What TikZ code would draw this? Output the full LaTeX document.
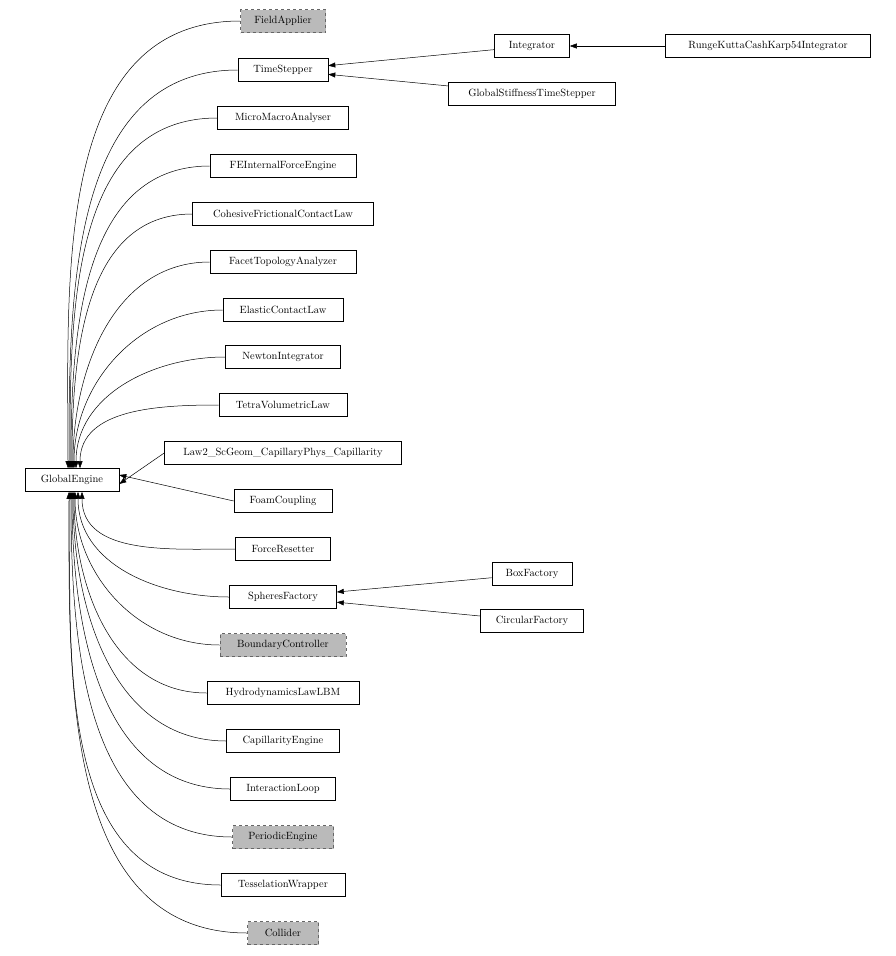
\documentclass[tikz,border=0pt]{standalone}
\usetikzlibrary{arrows.meta}
\begin{document}
\begin{tikzpicture}[x=1pt,y=-1pt,
  box/.style={draw, line width=0.6pt, minimum height=23pt, inner sep=0pt, font=\fontsize{10.5}{12}\selectfont, fill=white},
  gbox/.style={box, fill=black!27, dashed, draw=black!60},
  inh/.style={-{Triangle[width=5pt,length=7pt]}, line width=0.5pt}]
\useasboundingbox (0,0) rectangle (895,956);
\def\N#1#2#3#4#5#6{\node[#1, minimum width=#5pt] (#2) at (#3,#4) {#6};}
\N{box}{ge}{72}{480}{94}{GlobalEngine}
\N{gbox}{fa}{283}{21}{85}{FieldApplier}
\N{box}{ts}{283}{70}{90}{TimeStepper}
\N{box}{integ}{532}{46}{75}{Integrator}
\N{box}{rk}{768}{46}{205}{RungeKuttaCashKarp54Integrator}
\N{box}{gsts}{532}{94}{167}{GlobalStiffnessTimeStepper}
\N{box}{mma}{283}{118}{131}{MicroMacroAnalyser}
\N{box}{fei}{283}{166}{146}{FEInternalForceEngine}
\N{box}{cfc}{283}{214}{181}{CohesiveFrictionalContactLaw}
\N{box}{fta}{283}{262}{146}{FacetTopologyAnalyzer}
\N{box}{ecl}{283}{310}{120}{ElasticContactLaw}
\N{box}{ni}{283}{357}{115}{NewtonIntegrator}
\N{box}{tvl}{283}{405}{128}{TetraVolumetricLaw}
\N{box}{law}{283}{453}{237}{Law2\_ScGeom\_CapillaryPhys\_Capillarity}
\N{box}{fc}{283}{501}{98}{FoamCoupling}
\N{box}{fr}{283}{549}{95}{ForceResetter}
\N{box}{sf}{283}{597}{107}{SpheresFactory}
\N{box}{bf}{532}{574}{80}{BoxFactory}
\N{box}{cf}{532}{621}{103}{CircularFactory}
\N{gbox}{bc}{283}{645}{126}{BoundaryController}
\N{box}{hl}{283}{693}{152}{HydrodynamicsLawLBM}
\N{box}{ce}{283}{741}{113}{CapillarityEngine}
\N{box}{il}{283}{789}{105}{InteractionLoop}
\N{gbox}{pe}{283}{837}{101}{PeriodicEngine}
\N{box}{tw}{283}{885}{124}{TesselationWrapper}
\N{gbox}{col}{283}{933}{71}{Collider}
\draw[inh] (integ) -- (ts);
\draw[inh] (gsts) -- (ts);
\draw[inh] (rk) -- (integ);
\draw[inh] (bf) -- (sf);
\draw[inh] (cf) -- (sf);
\foreach \n/\dx in {fa/-4,ts/-3,mma/-2,fei/-1,cfc/0,fta/1,ecl/2,ni/4,tvl/8}
  \draw[inh] (\n.west) to[out=180,in=90] ([xshift=\dx pt]ge.north);
\draw[inh] (law.west) -- ([yshift=-4pt]ge.east);
\draw[inh] (fc.west) -- ([yshift=5pt]ge.east);
\foreach \n/\dx in {fr/10,sf/6,bc/3,hl/2,ce/1,il/0,pe/-1,tw/-2,col/-3}
  \draw[inh] (\n.west) to[out=180,in=-90] ([xshift=\dx pt]ge.south);
\end{tikzpicture}
\end{document}
